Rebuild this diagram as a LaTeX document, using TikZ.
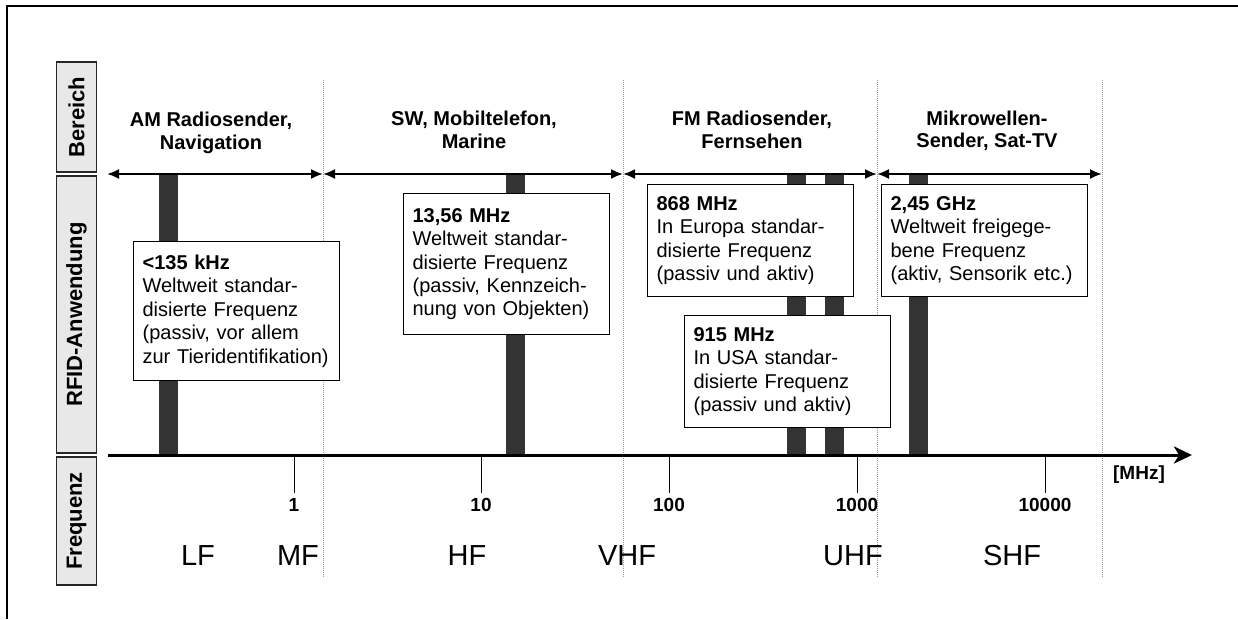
\documentclass[tikz,border=0pt]{standalone}
\usepackage{fontspec}
\setmainfont{Liberation Sans}
\usetikzlibrary{arrows.meta}
\definecolor{bargray}{HTML}{333333}
\definecolor{sidegray}{HTML}{E8E8E8}
\definecolor{dotgray}{HTML}{9A9A9A}
\begin{document}
\begin{tikzpicture}[x=1pt,y=-1pt,
  sidebox/.style={draw=black!85, fill=sidegray, line width=1.2pt, minimum height=40pt,
    inner sep=0pt, rotate=90, font=\bfseries\fontsize{22}{26}\selectfont},
  infobox/.style={draw=black, fill=white, line width=1.2pt, text width=188pt,
    inner xsep=9pt, inner ysep=0pt, align=left, anchor=north west,
    font=\fontsize{20}{23.4}\selectfont},
  header/.style={align=center, font=\bfseries\fontsize{20}{22.5}\selectfont},
  ticklab/.style={font=\bfseries\fontsize{19}{22}\selectfont, inner sep=0pt},
  bandlab/.style={font=\fontsize{29}{34}\selectfont, inner sep=0pt},
  dotline/.style={draw=dotgray, line width=1pt, densely dotted},
  dbl/.style={line width=2pt, {Latex[length=12pt,width=10pt]}-{Latex[length=12pt,width=10pt]}},
  bar/.style={fill=bargray},
  tickline/.style={line width=1pt}
]
\useasboundingbox (0,0) rectangle (1238,619);

% frame
\draw[line width=2.5pt] (7,619) -- (7,6) -- (1238,6);

% side labels
\node[sidebox, minimum width=110pt] (sb) at (76.5,117) {Bereich};
\node[sidebox, minimum width=277pt] (sr) at (76.5,314.5) {RFID-Anwendung};
\node[sidebox, minimum width=128pt] (sf) at (76.5,521) {Frequenz};

% dotted separators
\draw[dotline] (323,80) -- (323,577);
\draw[dotline] (623,80) -- (623,577);
\draw[dotline] (877,80) -- (877,577);
\draw[dotline] (1102,80) -- (1102,577);

% bars
\fill[bar] (159,174) rectangle (178,455);
\fill[bar] (506,174) rectangle (525,455);
\fill[bar] (787,174) rectangle (806,455);
\fill[bar] (825,174) rectangle (844,455);
\fill[bar] (909,174) rectangle (928,455);

% range arrows
\coordinate (r0) at (107,174);
\coordinate (r1) at (323,174);
\coordinate (r2) at (623,174);
\coordinate (r3) at (877,174);
\coordinate (r4) at (1102,174);
\draw[dbl] (r0) -- (r1);
\draw[dbl] (r1) -- (r2);
\draw[dbl] (r2) -- (r3);
\draw[dbl] (r3) -- (r4);

% headers
\node[header] (h1) at (211,133) {AM Radiosender,\\Navigation};
\node[header] (h2) at (474,130) {SW, Mobiltelefon,\\Marine};
\node[header] (h3) at (752,130) {FM Radiosender,\\Fernsehen};
\node[header] (h4) at (987,131) {Mikrowellen-\\Sender, Sat-TV};

% axis
\coordinate (ax0) at (108,455);
\coordinate (ax1) at (1192,455);
\draw[line width=3pt, -{Stealth[length=18pt,width=17pt,inset=5pt]}] (ax0) -- (ax1);

% ticks
\foreach \x/\n/\l in {294/t1/1, 481/t2/10, 669/t3/100, 857/t4/1000, 1045/t5/10000}{
  \draw[tickline] (\x,455) -- (\x,493);
  \node[ticklab] (\n) at (\x,505) {\l};
}
\node[ticklab] (unit) at (1139,475) {[MHz]};

% band labels
\node[bandlab] (lf) at (198,556) {LF};
\node[bandlab] (mf) at (298,556) {MF};
\node[bandlab] (hf) at (467,556) {HF};
\node[bandlab] (vhf) at (627,556) {VHF};
\node[bandlab] (uhf) at (853,556) {UHF};
\node[bandlab] (shf) at (1012,556) {SHF};

% info boxes
\node[infobox, minimum height=139pt] (b1) at (133,241)
  {\textbf{<135 kHz}\\Weltweit standar-\\disierte Frequenz\\(passiv, vor allem\\zur Tieridentifikation)};
\node[infobox, minimum height=141pt] (b2) at (403,193)
  {\textbf{13,56 MHz}\\Weltweit standar-\\disierte Frequenz\\(passiv, Kennzeich-\\nung von Objekten)};
\node[infobox, minimum height=112pt] (b3) at (647,184)
  {\textbf{868 MHz}\\In Europa standar-\\disierte Frequenz\\(passiv und aktiv)};
\node[infobox, minimum height=112pt] (b4) at (684,315)
  {\textbf{915 MHz}\\In USA standar-\\disierte Frequenz\\(passiv und aktiv)};
\node[infobox, minimum height=112pt] (b5) at (881,184)
  {\textbf{2,45 GHz}\\Weltweit freigege-\\bene Frequenz\\(aktiv, Sensorik etc.)};
\end{tikzpicture}
\end{document}
